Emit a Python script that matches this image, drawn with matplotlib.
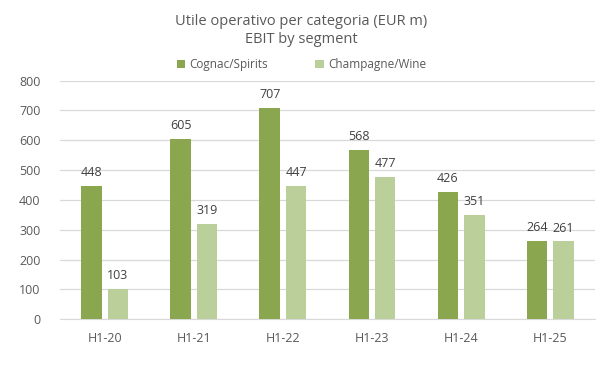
import numpy as np
import matplotlib.pyplot as plt

# data
periods = ['H1-20', 'H1-21', 'H1-22', 'H1-23', 'H1-24', 'H1-25']
cognac = [448, 605, 707, 568, 426, 264]
champagne = [103, 319, 447, 477, 351, 261]
series_names = ['Cognac/Spirits', 'Champagne/Wine']
yticks = [0, 100, 200, 300, 400, 500, 600, 700, 800]

plt.rcParams['font.family'] = ['Open Sans', 'DejaVu Sans']

col_dark = '#8aa64e'
col_light = '#bacf9a'
txt = '#595959'

fig = plt.figure(figsize=(6.03, 3.70), dpi=100)
ax = fig.add_axes([0.0995, 0.137, 0.887, 0.645])

x = np.arange(len(periods))
w = 0.23
off = 0.148
b1 = ax.bar(x - off, cognac, w, color=col_dark, label=series_names[0], zorder=3)
b2 = ax.bar(x + off, champagne, w, color=col_light, label=series_names[1], zorder=3)

for bars in (b1, b2):
    ax.bar_label(bars, padding=5, fontsize=9, color='#404040')

ax.set_xlim(-0.5, len(periods) - 0.5)
ax.set_ylim(0, 800)
ax.set_yticks(yticks)
ax.set_xticks(x)
ax.set_xticklabels(periods)
ax.tick_params(axis='both', length=0, labelsize=9, colors=txt)
ax.tick_params(axis='x', pad=9)
ax.tick_params(axis='y', pad=14)
ax.grid(axis='y', color='#d9d9d9', linewidth=0.9, zorder=0)
for s in ['top', 'right', 'left']:
    ax.spines[s].set_visible(False)
ax.spines['bottom'].set_color('#d9d9d9')

fig.text(0.5, 0.918, 'Utile operativo per categoria (EUR m)\nEBIT by segment',
         ha='center', va='center', fontsize=10.5, color=txt, linespacing=1.3)
fig.legend(loc='center', bbox_to_anchor=(0.5, 0.826), ncol=2, frameon=False,
           fontsize=8.5, handlelength=0.7, handleheight=0.7, handletextpad=0.4,
           columnspacing=4.0, labelcolor=txt)

fig.savefig('out.png', dpi=100)
